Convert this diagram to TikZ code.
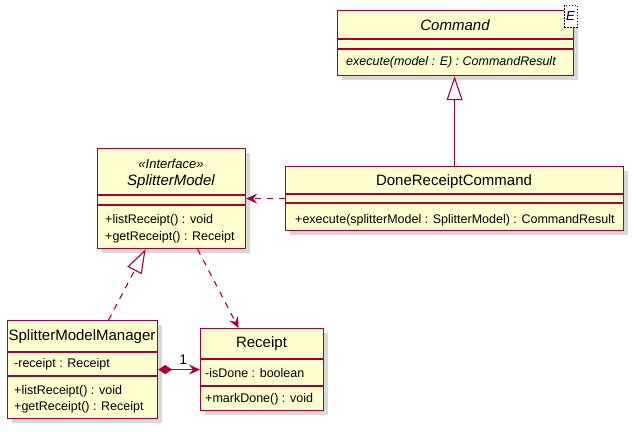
\documentclass[tikz,border=0pt]{standalone}
\usepackage{fontspec}
\setmainfont{Liberation Sans}
\usetikzlibrary{arrows.meta,calc,shadows}
\definecolor{umlfill}{HTML}{FEFECE}
\definecolor{umlline}{HTML}{A80036}

\tikzset{
  classbox/.style={draw=umlline, fill=umlfill, line width=1.2pt, anchor=north west, inner sep=0pt,
    drop shadow={shadow xshift=4pt, shadow yshift=-4pt, fill=black!30, opacity=0.5}},
  classname/.style={font=\fontsize{15}{17}\selectfont, inner sep=0pt},
  iclassname/.style={font=\fontsize{15}{17}\selectfont\itshape, inner sep=0pt},
  member/.style={font=\fontsize{12.5}{14}\selectfont, anchor=west, inner sep=0pt},
  sep/.style={draw=umlline, line width=1.2pt},
  conn/.style={draw=umlline, line width=1.1pt},
  dashes/.style={dash pattern=on 6pt off 6pt},
}

\begin{document}
\begin{tikzpicture}[x=1pt,y=-1pt]
		\useasboundingbox (0,0) rectangle (636,431);
		% class boxes
		\node[classbox, minimum width=236pt, minimum height=65pt] (Cmd) at (337,10) {};
		\node[classbox, minimum width=148pt, minimum height=100pt] (Sm) at (97,148) {};
		\node[classbox, minimum width=338pt, minimum height=64pt] (Drc) at (285,166) {};
		\node[classbox, minimum width=150pt, minimum height=98pt] (Smm) at (7,320) {};
		\node[classbox, minimum width=123pt, minimum height=82pt] (Rc) at (200,328) {};
		\draw[sep] (Cmd.west |- 0,39) -- (Cmd.east |- 0,39) (Cmd.west |- 0,49) -- (Cmd.east |- 0,49);
		\draw[sep] (Sm.west |- 0,195) -- (Sm.east |- 0,195) (Sm.west |- 0,205) -- (Sm.east |- 0,205);
		\draw[sep] (Drc.west |- 0,194) -- (Drc.east |- 0,194) (Drc.west |- 0,203) -- (Drc.east |- 0,203);
		\draw[sep] (Smm.west |- 0,352) -- (Smm.east |- 0,352) (Smm.west |- 0,376) -- (Smm.east |- 0,376);
		\draw[sep] (Rc.west |- 0,359) -- (Rc.east |- 0,359) (Rc.west |- 0,386) -- (Rc.east |- 0,386);
		\node[draw, dash pattern=on 1.5pt off 1.5pt, line width=0.7pt, fill=white, minimum width=13pt, minimum height=22pt,
			inner sep=0pt, font=\fontsize{13}{13}\selectfont\itshape] (CmdParam) at (570.5,16) {E};
		% texts
		\node[iclassname] (CmdName) at (455,25) {Command};
		\node[member, font=\fontsize{12.5}{14}\selectfont\itshape] (CmdExec) at (346,62) {execute(model : E) : CommandResult};
		\node[iclassname, font=\fontsize{13}{15}\selectfont\itshape] (SmStereo) at (171,164) {«Interface»};
		\node[iclassname] (SmName) at (171,182) {SplitterModel};
		\node[member] (SmList) at (105,220) {+listReceipt() : void};
		\node[member] (SmGet) at (105,237) {+getReceipt() : Receipt};
		\node[classname] (DrcName) at (454,182) {DoneReceiptCommand};
		\node[member] (DrcExec) at (295,220) {+execute(splitterModel : SplitterModel) : CommandResult};
		\node[classname] (SmmName) at (82,337) {SplitterModelManager};
		\node[member] (SmmReceipt) at (14,364) {-receipt : Receipt};
		\node[member] (SmmList) at (14,391) {+listReceipt() : void};
		\node[member] (SmmGet) at (14,407) {+getReceipt() : Receipt};
		\node[classname] (RcName) at (261.5,344) {Receipt};
		\node[member] (RcDone) at (205,373) {-isDone : boolean};
		\node[member] (RcMark) at (205,399) {+markDone() : void};
		% relations
		\draw[conn, -{Triangle[open, length=24pt, width=16pt]}] (Drc.north) -- (Drc.north |- Cmd.south);
		\draw[conn, dashes, -{Stealth[length=11pt, width=10pt, inset=4pt]}] (Drc.west) -- (Drc.west -| Sm.east);
		\draw[conn, dashes, -{Triangle[open, length=24pt, width=16pt]}] ([xshift=26pt]Smm.north) -- ([xshift=-26pt]Sm.south);
		\draw[conn, dashes, -{Stealth[length=11pt, width=10pt, inset=4pt]}] ([xshift=26pt]Sm.south) -- ([xshift=-23.5pt]Rc.north);
		\draw[conn, {Diamond[length=14pt, width=9pt]}-{Stealth[length=11pt, width=10pt, inset=4pt]}] (Smm.east) -- node[pos=0.6, above=5pt, font=\fontsize{14}{14}\selectfont, inner sep=0pt] (MultOne) {1} (Rc.west);
	\end{tikzpicture}
\end{document}
